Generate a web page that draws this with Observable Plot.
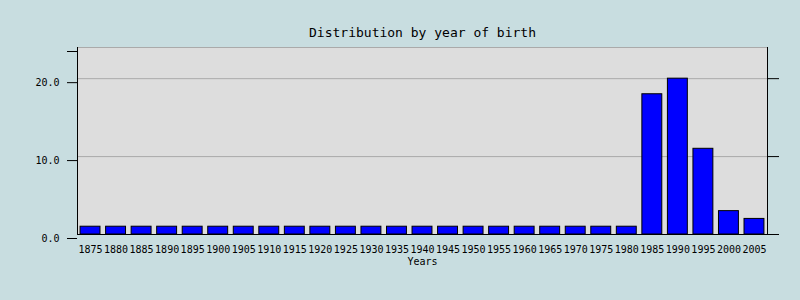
<!DOCTYPE html>
<html>
<head>
<meta charset="utf-8">
<script src="https://cdn.jsdelivr.net/npm/d3@7"></script>
<script src="https://cdn.jsdelivr.net/npm/@observablehq/plot@0.6"></script>
<style>
  html, body { margin: 0; padding: 0; background: #c8dde0; }
</style>
</head>
<body>
<div id="chart"></div>
<script>
const years = ["1875","1880","1885","1890","1895","1900","1905","1910","1915","1920","1925","1930","1935","1940","1945","1950","1955","1960","1965","1970","1975","1980","1985","1990","1995","2000","2005"];
const counts = [1,1,1,1,1,1,1,1,1,1,1,1,1,1,1,1,1,1,1,1,1,1,18,20,11,3,2];
const yTicks = [0, 10, 20];
const title = "Distribution by year of birth";
const xLabel = "Years";

const data = years.map((y, i) => ({year: y, count: counts[i]}));
const fmt = d => yTicks.includes(d) ? d.toFixed(1) : "";

const chart = Plot.plot({
  width: 800,
  height: 300,
  marginLeft: 77,
  marginRight: 33,
  marginTop: 47,
  marginBottom: 66,
  style: {background: "#c8dde0", fontFamily: "DejaVu Sans Mono", fontSize: "10px", color: "black"},
  x: {domain: years, paddingInner: 0.22, paddingOuter: 0.12, round: false, label: null},
  y: {domain: [0, 24], label: null},
  marks: [
    Plot.frame({fill: "#dddddd", stroke: null}),
    Plot.ruleY([10, 20, 24], {stroke: "#aaaaaa"}),
    Plot.barY(data, {x: "year", y: "count", fill: "#0000ff", stroke: "black", strokeWidth: 1}),
    Plot.axisX({anchor: "bottom", tickSize: 0, tickPadding: 11, label: null, fontSize: 10}),
    Plot.axisY({anchor: "left", ticks: [0, 10, 20, 24], tickFormat: fmt, tickSize: 10, tickPadding: 8, dy: 4, label: null, stroke: "black"}),
    Plot.axisY({anchor: "right", ticks: [0, 10, 20], tickFormat: () => "", tickSize: 11, label: null, stroke: "black"}),
    Plot.frame({anchor: "left", stroke: "black"}),
    Plot.frame({anchor: "right", stroke: "black"}),
    Plot.ruleY([0], {stroke: "black"}),
    Plot.text([title], {frameAnchor: "top", dy: -20, fontSize: 13, fill: "black"}),
    Plot.text([xLabel], {frameAnchor: "bottom", dy: 30, fontSize: 10, fill: "black"})
  ]
});
document.getElementById("chart").appendChild(chart);
</script>
</body>
</html>
